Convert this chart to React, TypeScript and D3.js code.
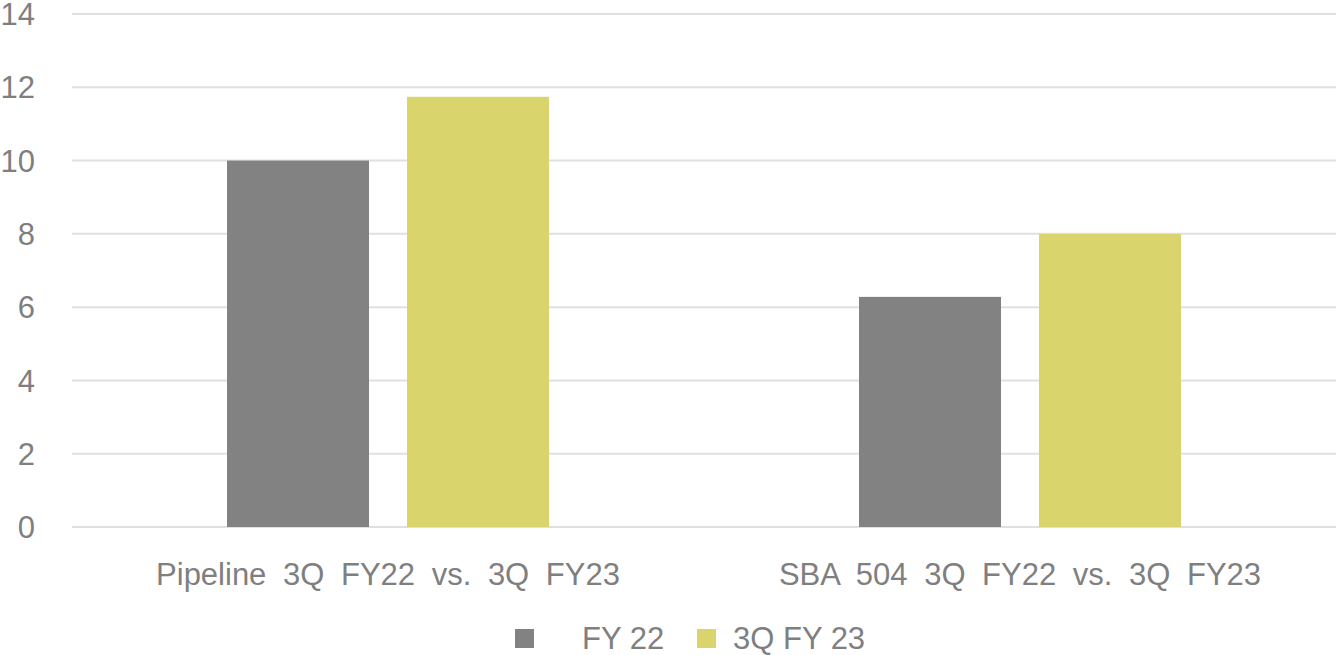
import React from "react";
import * as d3 from "d3";

const categories = ["Pipeline 3Q FY22 vs. 3Q FY23", "SBA 504 3Q FY22 vs. 3Q FY23"];
const seriesNames = ["FY 22", "3Q FY 23"];
const fy22Values = [10, 6.28];
const fy23Values = [11.74, 8.0];
const yTicks = [0, 2, 4, 6, 8, 10, 12, 14];
const colors = ["#828282", "#d9d46c"];

const W = 1337;
const H = 655;
const left = 72;
const right = 1336;
const top = 14;
const bottom = 527;
const textColor = "#7f7f7f";
const font = "'Liberation Sans', Arial, sans-serif";
const fs = 31;

export default function App() {
  const y = d3.scaleLinear().domain([0, 14]).range([bottom, top]);
  const x0 = d3.scaleBand<string>().domain(categories).range([left, right]).paddingInner(0).paddingOuter(0);
  const barW = 142;
  const gap = 38;
  const series = [fy22Values, fy23Values];

  return (
    <svg width={W} height={H} style={{ position: "absolute", left: 0, top: 0, background: "#fff" }} fontFamily={font}>
      {yTicks.map((t) => (
        <g key={t}>
          <line x1={left} x2={right} y1={y(t)} y2={y(t)} stroke="#e0e0e0" strokeWidth={2} />
          <text x={35} y={y(t)} dy="0.36em" textAnchor="end" fontSize={fs} fill={textColor}>{t}</text>
        </g>
      ))}
      {categories.map((c, ci) => {
        const cx = (x0(c) as number) + x0.bandwidth() / 2;
        return (
          <g key={c}>
            {series.map((vals, si) => {
              const bx = cx - gap / 2 - barW + si * (barW + gap);
              return (
                <rect key={si} x={bx} y={y(vals[ci])} width={barW} height={y(0) - y(vals[ci])} fill={colors[si]} />
              );
            })}
            <text x={cx} y={585} textAnchor="middle" fontSize={fs} fill={textColor} style={{ wordSpacing: "8px" }}>{c}</text>
          </g>
        );
      })}
      <g>
        <rect x={515} y={629} width={19} height={19} fill={colors[0]} />
        <text x={582} y={649} fontSize={fs} fill={textColor}>{seriesNames[0]}</text>
        <rect x={697} y={629} width={19} height={19} fill={colors[1]} />
        <text x={733} y={649} fontSize={fs} fill={textColor}>{seriesNames[1]}</text>
      </g>
    </svg>
  );
}
